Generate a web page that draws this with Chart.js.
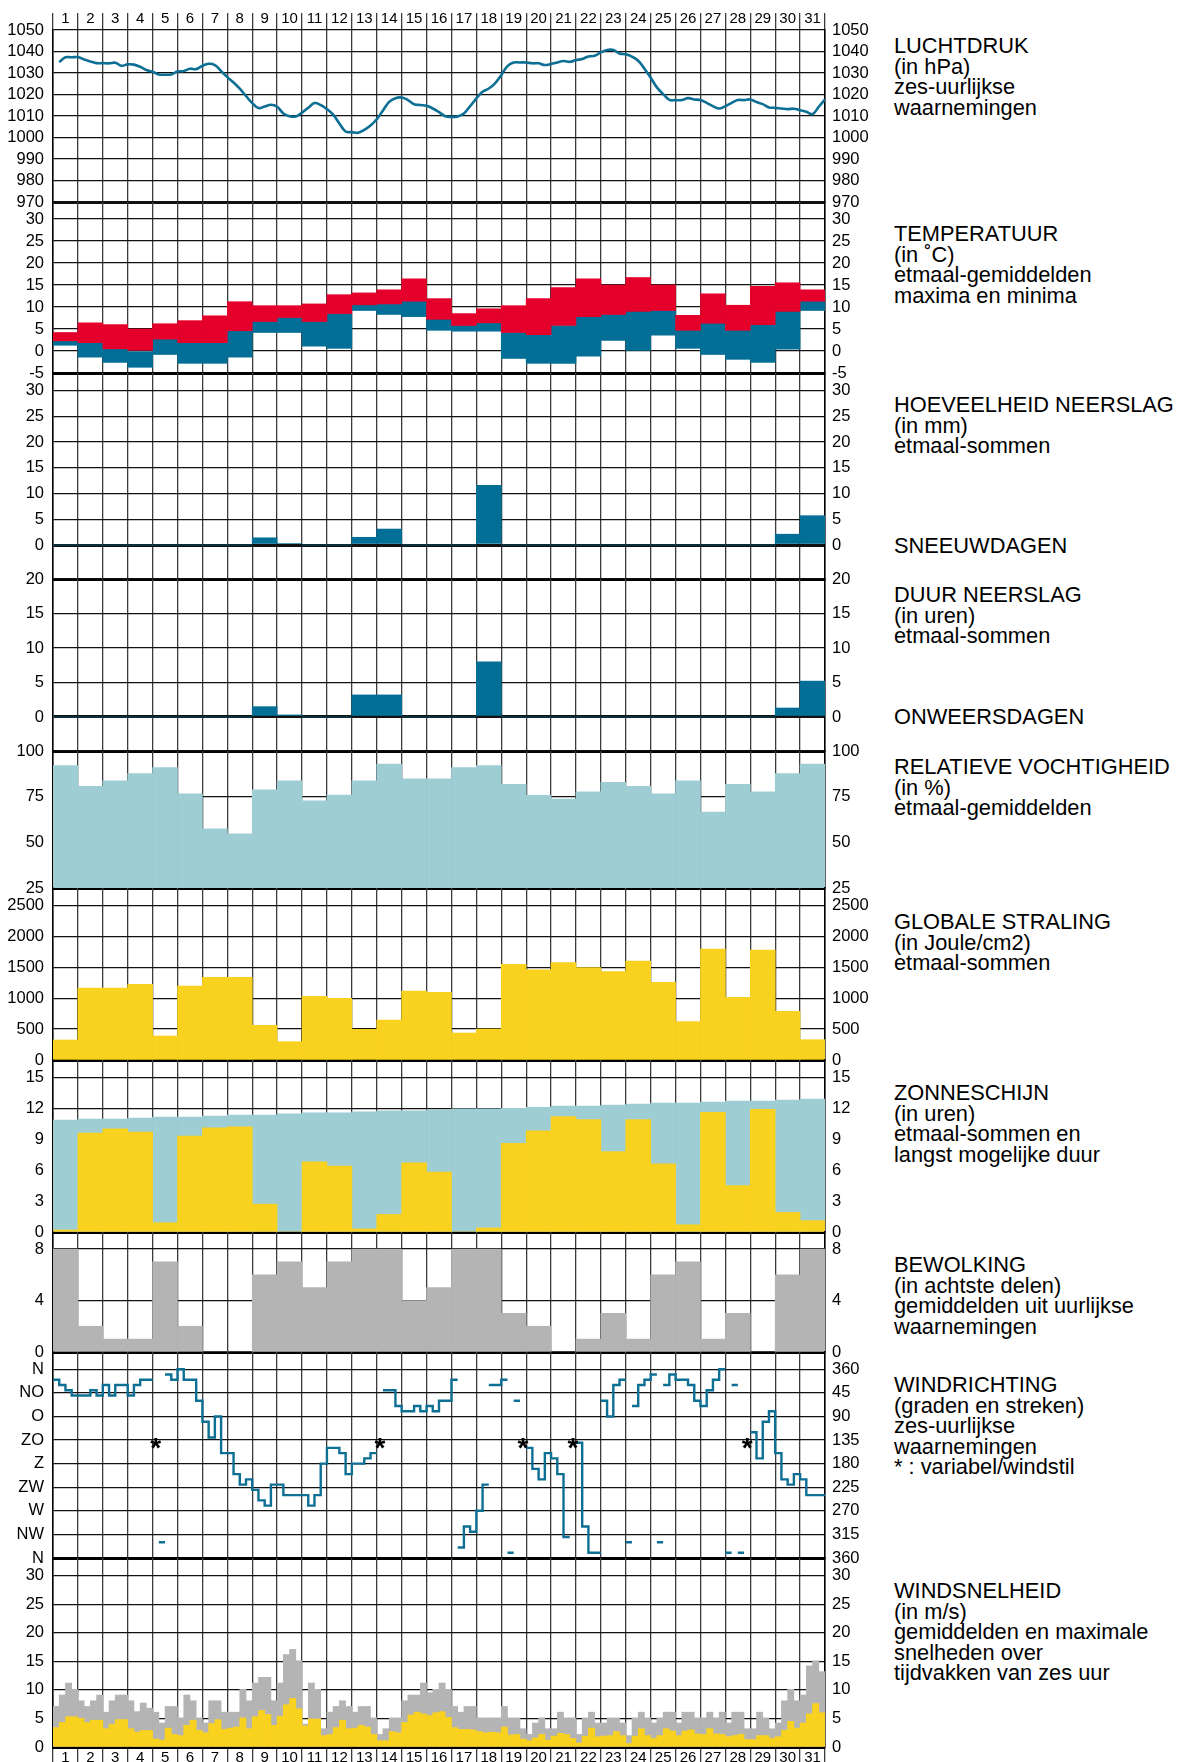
<!DOCTYPE html>
<html>
<head>
<meta charset="utf-8">
<title>Maandoverzicht weer</title>
<script src="https://cdn.jsdelivr.net/npm/chart.js@4.4.1/dist/chart.umd.min.js"></script>
<style>
    body { margin: 0; background: #fff; }
    #page { position: relative; width: 1178px; height: 1762px; overflow: hidden;
            font-family: 'Liberation Sans', Arial, Helvetica, sans-serif; }
    #page canvas { position: absolute; left: 0; }
    .note { position: absolute; left: 894px; font-size: 21.8px; line-height: 20.5px;
            color: #000; white-space: nowrap; }
</style>
</head>
<body>
<div id="page"></div>
<script>
// ---- data ----
const days = [1,2,3,4,5,6,7,8,9,10,11,12,13,14,15,16,17,18,19,20,21,22,23,24,25,26,27,28,29,30,31];
const dayEdges = [0,1,2,3,4,5,6,7,8,9,10,11,12,13,14,15,16,17,18,19,20,21,22,23,24,25,26,27,28,29,30,31];

// six-hourly air pressure (hPa)
const pressure = [
    1035.1,1037.3,1037.3,1037.4, 1036.3,1035.4,1034.6,1034.6, 1034.5,1034.8,1033.4,1034.0, 1033.9,1032.9,1031.4,1030.6,
    1029.3,1029.2,1029.3,1030.7, 1030.9,1032.0,1031.8,1033.4, 1034.3,1033.7,1030.9,1028.1, 1025.6,1022.7,1019.3,1016.0,
    1013.7,1014.4,1015.2,1014.3, 1011.2,1009.9,1009.8,1011.6, 1013.8,1016.0,1015.1,1013.2, 1010.6,1006.5,1002.8,1002.5,
    1002.2,1003.6,1005.6,1008.5, 1012.6,1016.6,1018.3,1018.6, 1017.4,1015.5,1015.1,1014.8, 1013.5,1011.8,1009.9,1009.6,
    1009.8,1011.2,1014.6,1018.2, 1021.3,1022.8,1025.2,1029.0, 1033.2,1034.9,1034.9,1034.9, 1034.5,1034.5,1033.7,1034.2,
    1034.9,1035.6,1035.2,1036.0, 1036.5,1037.7,1038.0,1039.6, 1040.7,1040.7,1039.1,1038.7, 1037.6,1035.7,1032.0,1027.8,
    1023.3,1020.2,1017.5,1017.4, 1017.4,1018.3,1017.7,1017.4, 1016.1,1014.6,1013.5,1014.6, 1016.1,1017.4,1017.4,1017.7,
    1016.5,1015.5,1014.0,1013.8, 1013.5,1013.2,1013.4,1012.7, 1012.0,1010.9,1014.3,1017.7
];

// temperature (°C)
const tMax  = [4.2,6.4,6.0,5.0,6.2,6.9,8.0,11.2,10.3,10.3,10.7,12.8,13.2,13.9,16.4,11.9,8.5,9.6,10.3,11.9,14.4,16.4,15.0,16.7,15.0,8.1,13.0,10.4,14.7,15.5,13.9];
const tMean = [2.3,1.9,0.5,0.0,2.7,1.9,1.9,4.6,6.7,7.6,6.7,8.5,10.5,10.7,11.3,7.2,5.8,6.4,4.2,3.7,5.8,7.8,8.3,9.0,9.2,4.7,6.3,4.7,6.0,9.0,11.3];
const tMin  = [1.3,-1.4,-2.6,-3.7,-0.8,-2.8,-2.8,-1.4,4.2,4.2,1.1,0.6,9.2,8.3,7.8,4.7,4.5,4.5,-1.7,-2.8,-2.8,-1.2,2.4,0.0,3.6,0.6,-0.8,-1.9,-2.6,0.4,9.2];

// precipitation amount (mm) and duration (hours)
const rain    = [0,0,0,0,0,0,0,0,1.4,0.3,0,0,1.5,3.1,0,0,0,11.6,0,0,0,0,0,0,0,0,0,0,0,2.1,5.7];
const rainDur = [0,0,0,0,0,0,0,0,1.5,0.3,0,0,3.2,3.2,0,0,0,8.0,0,0,0,0,0,0,0,0,0,0,0,1.3,5.2];

// relative humidity (%)
const humidity = [92,80.6,83.7,87.7,90.9,76.6,57.4,54.6,78.8,83.7,72.7,75.9,83.7,92.9,84.8,84.8,90.9,92,81.7,75.7,73.7,77.7,82.8,80.6,76.6,83.7,66.5,81.7,77.7,87.7,92.9];

// global radiation (J/cm2)
const radiation = [324,1166,1166,1226,389,1199,1339,1339,562,297,1031,999,497,648,1118,1096,437,502,1550,1463,1577,1496,1431,1604,1258,621,1798,1015,1782,788,329];

// sunshine (hours) and longest possible duration
const sunshine = [0.2,9.6,10.0,9.7,0.9,9.3,10.1,10.2,2.7,0,6.8,6.4,0.3,1.7,6.7,5.8,0,0.4,8.6,9.8,11.2,10.9,7.8,10.9,6.6,0.7,11.6,4.5,11.9,1.9,1.1];
const sunMax   = [10.85,10.95,10.95,11.05,11.15,11.15,11.25,11.35,11.35,11.45,11.55,11.55,11.65,11.75,11.75,11.85,11.95,11.95,12.0,12.1,12.2,12.2,12.3,12.4,12.5,12.5,12.6,12.7,12.7,12.8,12.9];

// cloud cover (octas)
const cloud = [8,2,1,1,7,2,0,0,6,7,5,7,8,8,4,5,8,8,3,2,0,1,3,1,6,7,1,3,0,6,8];

// six-hourly wind direction (degrees); null = missing, 'V' = variabel/windstil
const windDir = [
    20,30,40,50, 50,50,40,50, 30,50,30,30, 50,30,20,20, 'V',330,10,20, 0,20,20,60, 100,130,90,160, 160,200,220,210,
    230,250,260,220, 220,240,240,240, 240,260,240,180, 150,150,160,200, 180,180,170,160, 'V',40,40,70, 80,80,70,80,
    70,80,60,60, 20,340,300,310, 270,220,30,30, 20,350,60,'V', 150,190,210,160, 170,200,320,'V', 140,300,350,350,
    60,90,30,20, 330,70,30,20, 10,330,30,10, 20,20,30,60, 70,40,20,0, 350,30,350,'V', 120,170,100,80,
    160,210,220,200, 210,240,240,240
];

// six-hourly wind speed (m/s): mean and maximum
const windMean = [
    3.4,4.3,5.3,5.3, 5.0,4.3,4.7,4.7, 3.2,4.0,4.8,4.8, 3.2,2.6,2.9,2.9, 1.4,1.2,3.3,2.2, 2.0,3.8,4.7,2.9, 2.5,4.1,4.8,3.1, 3.3,3.5,5.1,3.2,
    5.3,6.4,5.7,3.8, 5.4,7.4,8.5,6.7, 3.7,4.9,4.9,2.0, 2.2,3.4,4.7,3.2, 3.3,3.8,3.5,2.2, 1.1,1.1,2.7,2.5, 4.3,5.6,6.1,5.8, 5.5,6.0,6.2,5.2,
    3.4,3.1,3.1,3.0, 2.7,2.5,2.6,2.5, 3.5,2.1,2.2,1.4, 1.1,1.6,2.2,1.2, 1.9,2.4,2.2,1.5, 0.7,1.9,3.3,1.8, 1.9,2.0,2.7,2.0, 0.6,1.9,3.2,2.0,
    1.5,2.0,3.2,2.8, 2.0,2.8,3.0,2.3, 2.2,3.2,2.3,2.2, 1.8,2.0,2.2,1.3, 1.3,2.0,2.0,1.5, 1.8,2.9,4.5,3.3, 4.2,5.8,7.6,6.0
];
const windMax = [
    7.1,9.1,11.2,10.1, 8.1,7.1,8.1,9.1, 6.1,8.1,9.1,9.1, 8.1,6.2,7.7,6.8, 6.1,4.2,7.1,7.1, 5.1,9.1,8.1,5.1, 4.2,8.1,8.1,6.1, 6.1,6.1,10.1,8.1,
    11.2,12.2,12.2,8.1, 11.2,16.2,17.1,15.1, 4.0,11.2,10.1,3.2, 6.1,7.1,8.1,7.1, 6.1,7.1,7.1,5.1, 2.2,3.2,5.1,5.1, 8.1,9.1,9.1,11.2, 9.5,10.1,11.2,10.1,
    7.1,6.1,7.1,7.1, 5.1,5.1,5.1,5.1, 7.1,5.1,5.1,3.2, 2.2,4.2,5.1,3.2, 3.2,6.1,5.1,5.1, 2.2,5.1,6.1,4.2, 4.2,5.1,5.1,4.2, 2.0,5.1,6.1,5.1,
    4.2,5.1,6.1,6.1, 4.2,6.1,6.1,5.1, 5.1,6.1,5.1,6.1, 4.2,6.1,6.1,3.2, 3.2,6.1,5.1,3.2, 4.2,8.1,10.1,8.1, 9.1,14.2,15.1,13.2
];

// axis ticks and labels
const pressureTicks = [970,980,990,1000,1010,1020,1030,1040,1050];
const tempTicks = [-5,0,5,10,15,20,25,30];
const rainTicks = [0,5,10,15,20,25,30];
const durTicks = [0,5,10,15,20];
const humTicks = [25,50,75,100];
const radTicks = [0,500,1000,1500,2000,2500];
const sunTicks = [0,3,6,9,12,15];
const cloudTicks = [0,4,8];
const dirTicks = [0,45,90,135,180,225,270,315,360];
const dirLabelsLeft = ['N','NO','O','ZO','Z','ZW','W','NW','N'];
const dirLabelsRight = ['360','45','90','135','180','225','270','315','360'];
const speedTicks = [0,5,10,15,20,25,30];

// ---- styling ----
const DARKBLUE = '#036f96';
const LINEBLUE = '#0c6f93';
const RED = '#e4002b';
const LIGHTBLUE = '#9ecdd4';
const YELLOW = '#f9d21f';
const GREY = '#b4b4b4';
const HLINE = '#111';
const VLINE = '#3c3c3c';

Chart.defaults.font.family = "'Liberation Sans', Arial, Helvetica, sans-serif";
Chart.defaults.font.size = 16.5;
Chart.defaults.color = '#000';
Chart.defaults.animation = false;

const page = document.getElementById('page');

// draws a bold text asterisk centred on each point of datasets flagged with `asterisk`
const asteriskPlugin = {
    id: 'asterisk',
    afterDatasetsDraw(chart) {
        const ctx = chart.ctx;
        const size = 28;
        chart.data.datasets.forEach((ds, i) => {
            if (!ds.asterisk) return;
            ctx.save();
            ctx.font = "bold " + size + "px 'Liberation Sans', Arial, sans-serif";
            ctx.textAlign = 'center';
            ctx.textBaseline = 'alphabetic';
            ctx.fillStyle = '#000';
            chart.getDatasetMeta(i).data.forEach(pt => ctx.fillText('*', pt.x, pt.y + size * 0.58));
            ctx.restore();
        });
    }
};

function barSet(data, color, extra) {
    return Object.assign({
        data: data,
        backgroundColor: color,
        borderWidth: 0,
        barPercentage: 1,
        categoryPercentage: 1,
        grouped: false
    }, extra || {});
}

// one horizontal strip of the chart; top/bottom are the plot edges in page pixels
function panel(o) {
    const xTop = !!o.topLabels;
    const xBottom = !!o.bottomLabels;
    const padTop = xTop ? 0 : 12;
    const axisH = xTop ? 30 : (xBottom ? 15 : 2);
    const padBottom = xBottom ? 0 : 10;
    const canvas = document.createElement('canvas');
    canvas.width = 880;
    canvas.height = (o.bottom - o.top) + padTop + padBottom + axisH;
    canvas.style.top = (o.top - padTop - (xTop ? axisH : 0)) + 'px';
    page.appendChild(canvas);

    const z = o.gridOnTop ? 1 : 0;
    const thick = o.thick || [];
    const yTicks = s => { s.ticks = o.ticks.map(v => ({ value: v })); };
    const noPad = s => { s.paddingTop = 0; s.paddingBottom = 0; s.paddingLeft = 0; s.paddingRight = 0; };

    new Chart(canvas.getContext('2d'), {
        type: o.type,
        data: { datasets: o.datasets },
        plugins: o.plugins || [],
        options: {
            responsive: false,
            layout: { padding: { top: padTop, bottom: padBottom, left: 0, right: 0 } },
            plugins: { legend: { display: false }, tooltip: { enabled: false } },
            scales: {
                x: {
                    type: 'linear', min: 0, max: 31, offset: false, z: z,
                    position: xTop ? 'top' : 'bottom',
                    afterBuildTicks: s => { s.ticks = dayEdges.map(v => ({ value: v })); },
                    afterFit: s => { s.height = axisH; noPad(s); },
                    ticks: {
                        display: xTop || xBottom, autoSkip: false, maxRotation: 0, minRotation: 0,
                        font: { size: 15 },
                        labelOffset: -12.45,
                        padding: xTop ? -15 : -13.3,
                        callback: v => (v > 0 ? String(v) : '')
                    },
                    grid: { offset: false, color: VLINE, lineWidth: 1.3,
                            drawTicks: xTop || xBottom, tickLength: xTop ? 17 : 15 },
                    border: { display: !xTop, width: 3, color: '#000' }
                },
                y: {
                    type: 'linear', min: o.min, max: o.max, reverse: !!o.reverse, position: 'left', z: z,
                    afterBuildTicks: yTicks,
                    afterFit: s => { s.width = 53; noPad(s); },
                    ticks: { autoSkip: false, padding: 9,
                             callback: (v, i) => (o.leftLabels ? o.leftLabels[i] : String(v)) },
                    grid: { color: HLINE, drawTicks: false,
                            lineWidth: c => (c.tick && thick.includes(c.tick.value) ? 3 : 1.3) },
                    border: { display: true, color: '#000', width: 1.5 }
                },
                y2: {
                    type: 'linear', min: o.min, max: o.max, reverse: !!o.reverse, position: 'right', z: z,
                    afterBuildTicks: yTicks,
                    afterFit: s => { s.width = 55; noPad(s); },
                    ticks: { autoSkip: false, padding: 7,
                             callback: (v, i) => (o.rightLabels ? o.rightLabels[i] : String(v)) },
                    grid: { drawOnChartArea: false, drawTicks: false },
                    border: { display: true, color: '#000', width: 1.5 }
                }
            }
        }
    });
}

function daily(values) {
    return days.map((d, i) => ({ x: d - 0.5, y: values[i] }));
}
function dailyRange(lo, hi) {
    return days.map((d, i) => ({ x: d - 0.5, y: [lo[i], hi[i]] }));
}
function sixHourly(values) {
    return values.map((v, i) => ({ x: (i + 0.5) / 4, y: v }));
}

// stepped wind direction: each observation covers its six hours, jumps across north are broken
function windDirSteps() {
    const pts = [];
    windDir.forEach((v, i) => {
        if (typeof v !== 'number') { pts.push({ x: i / 4, y: null }); return; }
        const prev = windDir[i - 1];
        if (typeof prev !== 'number' || Math.abs(prev - v) > 180) pts.push({ x: i / 4, y: null });
        pts.push({ x: i / 4, y: v }, { x: (i + 1) / 4, y: v });
    });
    return pts;
}
function windCalm() {
    const pts = [];
    windDir.forEach((v, i) => { if (v === 'V') pts.push({ x: (i + 0.5) / 4, y: 136 }); });
    return pts;
}

function renderPanels() {
    panel({ top: 30, bottom: 202, type: 'line', min: 970, max: 1050, ticks: pressureTicks,
            thick: [970], topLabels: true,
            datasets: [{ data: pressure.map((p, i) => ({ x: (i + 1) / 4, y: p })),
                         borderColor: LINEBLUE, borderWidth: 2.6, pointRadius: 0, tension: 0.4 }] });

    panel({ top: 202, bottom: 373, type: 'bar', min: -5, max: 33.86, ticks: tempTicks, gridOnTop: true,
            datasets: [barSet(dailyRange(tMean, tMax), RED), barSet(dailyRange(tMin, tMean), DARKBLUE)] });

    panel({ top: 373, bottom: 579, type: 'bar', min: -6.61, max: 33.44, ticks: rainTicks, gridOnTop: true,
            thick: [0], datasets: [barSet(daily(rain), DARKBLUE)] });

    panel({ top: 579, bottom: 751, type: 'bar', min: -4.93, max: 20, ticks: durTicks, gridOnTop: true,
            thick: [0], datasets: [barSet(daily(rainDur), DARKBLUE)] });

    panel({ top: 751, bottom: 888, type: 'bar', min: 25, max: 100, ticks: humTicks, gridOnTop: true,
            datasets: [barSet(daily(humidity), LIGHTBLUE)] });

    panel({ top: 888, bottom: 1060, type: 'bar', min: 0, max: 2787, ticks: radTicks, gridOnTop: true,
            datasets: [barSet(daily(radiation), YELLOW)] });

    panel({ top: 1060, bottom: 1232, type: 'bar', min: 0, max: 16.68, ticks: sunTicks, gridOnTop: true,
            datasets: [barSet(daily(sunshine), YELLOW), barSet(daily(sunMax), LIGHTBLUE)] });

    panel({ top: 1232, bottom: 1352, type: 'bar', min: 0, max: 9.32, ticks: cloudTicks, gridOnTop: true,
            datasets: [barSet(daily(cloud), GREY)] });

    panel({ top: 1352, bottom: 1558, type: 'line', min: -33, max: 360, reverse: true, ticks: dirTicks,
            leftLabels: dirLabelsLeft, rightLabels: dirLabelsRight, plugins: [asteriskPlugin],
            datasets: [
                { data: windDirSteps(), borderColor: LINEBLUE, borderWidth: 2.4, pointRadius: 0,
                  borderJoinStyle: 'miter', borderCapStyle: 'butt', spanGaps: false },
                { data: windCalm(), showLine: false, pointRadius: 0, asterisk: true }
            ] });

    panel({ top: 1558, bottom: 1747, type: 'bar', min: 0, max: 33.1, ticks: speedTicks, gridOnTop: true,
            bottomLabels: true,
            datasets: [barSet(sixHourly(windMean), YELLOW), barSet(sixHourly(windMax), GREY)] });
}

// ---- captions on the right ----
const notes = [
    { top: 36,   lines: ['LUCHTDRUK', '(in hPa)', 'zes-uurlijkse', 'waarnemingen'] },
    { top: 224,  lines: ['TEMPERATUUR', '(in \u02DAC)', 'etmaal-gemiddelden', 'maxima en minima'] },
    { top: 395,  lines: ['HOEVEELHEID NEERSLAG', '(in mm)', 'etmaal-sommen'] },
    { top: 536,  lines: ['SNEEUWDAGEN'] },
    { top: 585,  lines: ['DUUR NEERSLAG', '(in uren)', 'etmaal-sommen'] },
    { top: 707,  lines: ['ONWEERSDAGEN'] },
    { top: 757,  lines: ['RELATIEVE VOCHTIGHEID', '(in %)', 'etmaal-gemiddelden'] },
    { top: 912,  lines: ['GLOBALE STRALING', '(in Joule/cm2)', 'etmaal-sommen'] },
    { top: 1083, lines: ['ZONNESCHIJN', '(in uren)', 'etmaal-sommen en', 'langst mogelijke duur'] },
    { top: 1255, lines: ['BEWOLKING', '(in achtste delen)', 'gemiddelden uit uurlijkse', 'waarnemingen'] },
    { top: 1375, lines: ['WINDRICHTING', '(graden en streken)', 'zes-uurlijkse', 'waarnemingen', '* : variabel/windstil'] },
    { top: 1581, lines: ['WINDSNELHEID', '(in m/s)', 'gemiddelden en maximale', 'snelheden over', 'tijdvakken van zes uur'] }
];

function renderNotes() {
    notes.forEach(n => {
        const div = document.createElement('div');
        div.className = 'note';
        div.style.top = n.top + 'px';
        n.lines.forEach(line => {
            const row = document.createElement('div');
            row.textContent = line;
            div.appendChild(row);
        });
        page.appendChild(div);
    });
}

renderPanels();
renderNotes();
</script>
</body>
</html>
